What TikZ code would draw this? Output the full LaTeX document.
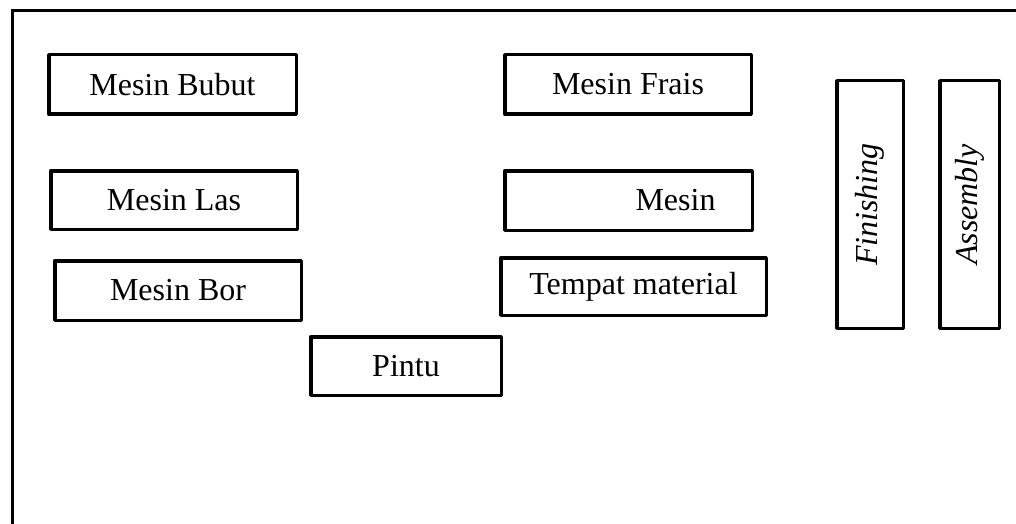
\documentclass[tikz,border=0pt]{standalone}
\usepackage{fontspec}
\setmainfont{Liberation Serif}
\begin{document}
\begin{tikzpicture}[x=1pt,y=-1pt,
  wall/.style={line width=3.5pt, line cap=rect},
  room/.style={draw, line width=3.5pt, line join=round, rectangle, inner sep=0pt,
    font=\fontsize{32pt}{38pt}\selectfont},
  vroom/.style={room, rotate=90, font=\fontsize{32pt}{38pt}\selectfont\itshape}]
\useasboundingbox (0,0) rectangle (1016,524);
% outer walls of the workshop
\draw[wall] (12.5,524) -- (12.5,10.5) -- (1016,10.5);
% machine areas
\node[room, minimum width=247.5pt, minimum height=59.5pt] (bubut) at (172.5,84.5) {Mesin Bubut};
\node[room, minimum width=246.5pt, minimum height=59.5pt] (frais) at (628,84.5) {Mesin Frais};
\node[room, minimum width=246.5pt, minimum height=58.5pt] (las) at (174,200) {Mesin Las};
\node[room, minimum width=246.5pt, minimum height=59.5pt] (bor) at (178,290.5) {Mesin Bor};
\node[room, minimum width=247.5pt, minimum height=59.5pt] (mesin) at (628.5,200.5) {\hspace*{94pt}Mesin};
\node[room, minimum width=265.5pt, minimum height=57.5pt] (material) at (633.5,286.5) {Tempat material};
\node[room, minimum width=190.5pt, minimum height=58.5pt] (pintu) at (406,366) {Pintu};
% vertical work stations
\node[vroom, minimum width=247.5pt, minimum height=66.5pt] (finishing) at (870,204.5) {Finishing};
\node[vroom, minimum width=247.5pt, minimum height=59.5pt] (assembly) at (969.5,204.5) {Assembly};
\end{tikzpicture}
\end{document}
